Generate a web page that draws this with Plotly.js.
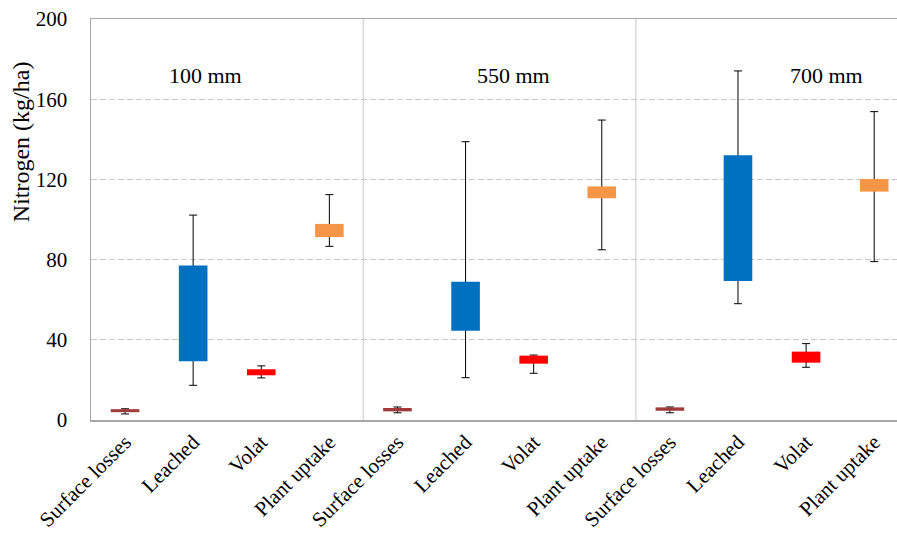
<!DOCTYPE html>
<html>
<head>
<meta charset="utf-8">
<script src="https://cdn.plot.ly/plotly-3.0.1.min.js"></script>
<style>html,body{margin:0;padding:0;background:#fff;overflow:hidden}</style>
</head>
<body>
<div id="chart" style="width:897px;height:534px"></div>
<script>
// ---- data ----
var groups = ['100 mm', '550 mm', '700 mm'];
var components = ['Surface losses', 'Leached', 'Volat', 'Plant uptake'];
var componentColors = ['#A03B3B', '#0070C0', '#FF0000', '#F79646'];

// values per group (100 mm, 550 mm, 700 mm)
var surfaceLow  = [3.0, 3.6, 3.6];
var surfaceQ1   = [3.9, 4.3, 4.6];
var surfaceQ3   = [5.4, 6.0, 6.3];
var surfaceHigh = [5.6, 6.5, 6.5];

var leachedLow  = [17.3, 21.1, 58.0];
var leachedQ1   = [29.3, 44.5, 69.3];
var leachedQ3   = [77.0, 69.0, 132.0];
var leachedHigh = [102.2, 138.8, 174.1];

var volatLow  = [21.0, 23.3, 26.3];
var volatQ1   = [22.3, 28.1, 28.6];
var volatQ3   = [25.3, 32.1, 34.1];
var volatHigh = [27.0, 32.4, 38.1];

var plantLow  = [86.6, 84.9, 79.0];
var plantQ1   = [91.2, 110.6, 113.9];
var plantQ3   = [97.8, 116.5, 120.2];
var plantHigh = [112.4, 149.6, 153.8];

// ---- build per-category arrays ----
var lows = [surfaceLow, leachedLow, volatLow, plantLow];
var q1s = [surfaceQ1, leachedQ1, volatQ1, plantQ1];
var q3s = [surfaceQ3, leachedQ3, volatQ3, plantQ3];
var highs = [surfaceHigh, leachedHigh, volatHigh, plantHigh];

var xs = [], labels = [], lo = [], q1 = [], q3 = [], hi = [], cols = [];
var k = 0;
for (var g = 0; g < groups.length; g++) {
  for (var c = 0; c < components.length; c++) {
    xs.push(k++);
    labels.push(components[c]);
    lo.push(lows[c][g]); q1.push(q1s[c][g]); q3.push(q3s[c][g]); hi.push(highs[c][g]);
    cols.push(componentColors[c]);
  }
}

var FONT = 'Liberation Serif, Times New Roman, serif';

var whiskers = {
  type: 'bar', x: xs, y: q3, width: 0.42,
  marker: {color: 'rgba(0,0,0,0)', line: {width: 0}},
  error_y: {
    type: 'data', symmetric: false,
    array: hi.map(function (h, i) { return h - q3[i]; }),
    arrayminus: lo.map(function (l, i) { return q3[i] - l; }),
    color: '#000000', thickness: 1, width: 4
  },
  hoverinfo: 'skip', showlegend: false
};

var boxes = {
  type: 'bar', x: xs, base: q1,
  y: q3.map(function (v, i) { return v - q1[i]; }),
  width: 0.42,
  marker: {color: cols, line: {width: 0}},
  showlegend: false
};

var shapes = [];
for (var g2 = 1; g2 < groups.length; g2++) {
  shapes.push({
    type: 'line', xref: 'x', yref: 'paper',
    x0: g2 * components.length - 0.5, x1: g2 * components.length - 0.5,
    y0: 0, y1: 1, layer: 'below',
    line: {color: '#D9D9D9', width: 1.5}
  });
}

var groupLabelX = [1.18, 5.7, 10.3];
var annotations = groups.map(function (t, i) {
  return {
    text: t, xref: 'x', yref: 'y', x: groupLabelX[i], y: 172,
    showarrow: false, xanchor: 'center', yanchor: 'middle',
    font: {family: FONT, size: 22, color: '#000'}
  };
});
annotations.push({
  text: 'Nitrogen (kg/ha)', textangle: -90,
  xref: 'paper', yref: 'y', x: -0.087, y: 139,
  xanchor: 'center', yanchor: 'middle', showarrow: false,
  font: {family: FONT, size: 24, color: '#000'}
});

var layout = {
  width: 897, height: 534,
  margin: {l: 91, r: 0, t: 19, b: 114, pad: 0},
  paper_bgcolor: '#fff', plot_bgcolor: '#fff',
  barmode: 'overlay',
  font: {family: FONT, color: '#000'},
  xaxis: {
    range: [-0.5, 11.335], tickmode: 'array', tickvals: xs, ticktext: labels,
    tickangle: -45, showgrid: false, zeroline: false,
    showline: true, mirror: true, linecolor: '#A6A6A6', linewidth: 1.5,
    ticks: '', ticklabelstandoff: 0,
    tickfont: {family: FONT, size: 21, color: '#000'}
  },
  yaxis: {
    range: [0, 200], tick0: 0, dtick: 40,
    showgrid: true, gridcolor: '#C8C8C8', gridwidth: 1, griddash: '6px,3px',
    zeroline: false, showline: true, linecolor: '#A6A6A6', linewidth: 1.5,
    ticks: '', ticklabelstandoff: 18,
    tickfont: {family: FONT, size: 21, color: '#000'}
  },
  shapes: shapes,
  annotations: annotations,
  showlegend: false
};

Plotly.newPlot('chart', [whiskers, boxes], layout, {displayModeBar: false, staticPlot: true});
</script>
</body>
</html>
